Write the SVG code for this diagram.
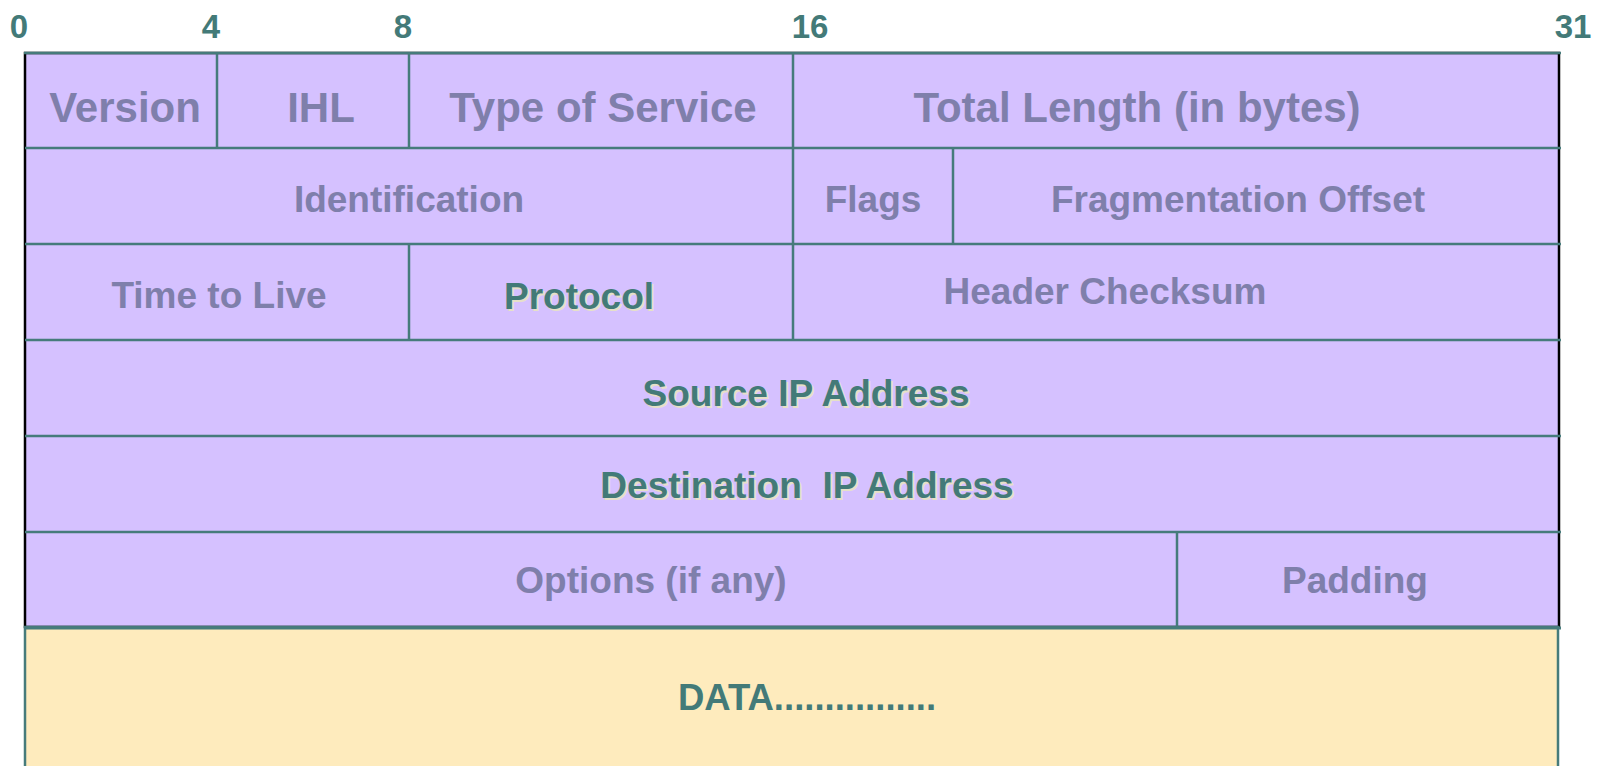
<svg xmlns="http://www.w3.org/2000/svg" width="1604" height="766" viewBox="0 0 1604 766">
<style>
.t{font-family:"Liberation Sans",Arial,sans-serif;font-weight:bold;text-anchor:middle}
.g{fill:#7F7FAB}
.k{fill:#437A78}
.sh{fill:#E6E0C8}
.n{font-size:33px;fill:#437A78}
.l{stroke:#467B7B;stroke-width:2.5;fill:none}
</style>
<rect width="1604" height="766" fill="#FFFFFF"/>
<g id="scale">
<text class="t n" x="19" y="38">0</text>
<text class="t n" x="211" y="38">4</text>
<text class="t n" x="403" y="38">8</text>
<text class="t n" x="810" y="38">16</text>
<text class="t n" x="1573" y="38">31</text>
</g>
<g id="header-box">
<rect x="25" y="53" width="1534" height="574" fill="#D5C1FF" stroke="#000000" stroke-width="2.5"/>
</g>
<g id="data-box">
<rect x="25" y="627" width="1533" height="150" fill="#FEEBBD" stroke="#467B7B" stroke-width="2.5"/>
</g>
<g id="connectors">
<line class="l" x1="24" y1="53" x2="1561" y2="53"/>
<line class="l" x1="25" y1="148" x2="1561" y2="148"/>
<line class="l" x1="25" y1="244" x2="1561" y2="244"/>
<line class="l" x1="25" y1="340" x2="1561" y2="340"/>
<line class="l" x1="25" y1="436" x2="1561" y2="436"/>
<line class="l" x1="25" y1="532" x2="1561" y2="532"/>
<line x1="24" y1="628" x2="1561" y2="628" stroke="#467B7B" stroke-width="3"/>
<line class="l" x1="217" y1="53" x2="217" y2="148"/>
<line class="l" x1="409" y1="53" x2="409" y2="148"/>
<line class="l" x1="793" y1="53" x2="793" y2="340"/>
<line class="l" x1="953" y1="148" x2="953" y2="244"/>
<line class="l" x1="409" y1="244" x2="409" y2="340"/>
<line class="l" x1="1177" y1="532" x2="1177" y2="627"/>
</g>
<g id="version"><text class="t g" x="125" y="122" font-size="42">Version</text></g>
<g id="ihl"><text class="t g" x="321" y="122" font-size="42">IHL</text></g>
<g id="tos"><text class="t g" x="603" y="122" font-size="42">Type of Service</text></g>
<g id="total-length"><text class="t g" x="1137" y="122" font-size="42">Total Length (in bytes)</text></g>
<g id="identification"><text class="t g" x="409" y="212" font-size="37">Identification</text></g>
<g id="flags"><text class="t g" x="873" y="212" font-size="37">Flags</text></g>
<g id="frag-offset"><text class="t g" x="1238" y="212" font-size="37">Fragmentation Offset</text></g>
<g id="ttl"><text class="t g" x="219" y="308" font-size="37">Time to Live</text></g>
<g id="protocol"><text class="t sh" x="581" y="311" font-size="37">Protocol</text><text class="t k" x="579" y="309" font-size="37">Protocol</text></g>
<g id="checksum"><text class="t g" x="1105" y="304" font-size="37">Header Checksum</text></g>
<g id="source"><text class="t sh" x="808" y="408" font-size="37">Source IP Address</text><text class="t k" x="806" y="406" font-size="37">Source IP Address</text></g>
<g id="destination"><text class="t sh" x="809" y="500" font-size="37" xml:space="preserve">Destination  IP Address</text><text class="t k" x="807" y="498" font-size="37" xml:space="preserve">Destination  IP Address</text></g>
<g id="options"><text class="t g" x="651" y="593" font-size="37">Options (if any)</text></g>
<g id="padding"><text class="t g" x="1355" y="593" font-size="37">Padding</text></g>
<g id="data"><text class="t k" x="807" y="710" font-size="36.5">DATA................</text></g>
</svg>
